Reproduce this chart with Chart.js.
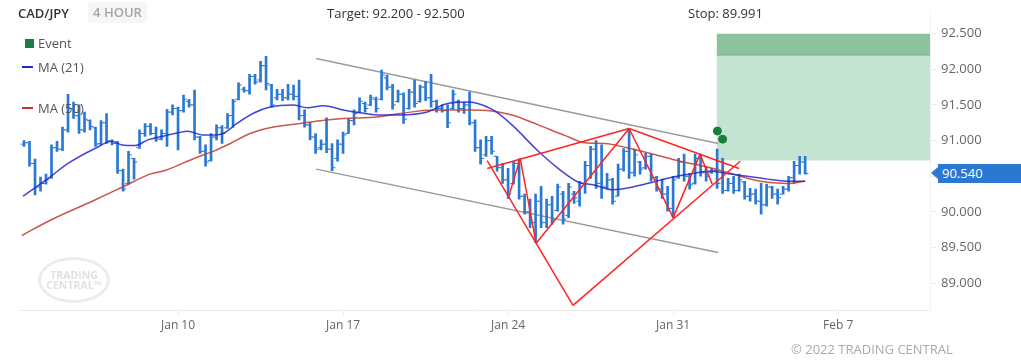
<!DOCTYPE html>
<html>
<head>
<meta charset="UTF-8"/>
<title>CAD/JPY - 4 HOUR</title>
<script src="https://cdn.jsdelivr.net/npm/chart.js@4.4.1/dist/chart.umd.min.js"></script>
<style>
 body { margin: 0; background: #fff; font-family: "Open Sans", sans-serif; }
 #wrap { position: relative; width: 1021px; height: 364px; overflow: hidden; }
 #wrap canvas { position: absolute; left: 0; top: 0; }
 .txt { position: absolute; font-size: 13px; line-height: 16px; color: #333; white-space: nowrap; }
 .leg { color: #555; }
 #pair { left: 18px; top: 5px; font-weight: 600; }
 #period { left: 88px; top: 2px; width: 59px; height: 21px; line-height: 21px; background: #f6f6f6;
           border-radius: 3px; color: #a5a5a5; font-weight: 600; text-align: center; }
 #target { left: 327px; top: 5px; }
 #stop { left: 688px; top: 5px; }
 .sw { position: absolute; }
 #mark { position: absolute; left: 38px; top: 257px; width: 66px; height: 40px; border: 3px solid #ececec;
         border-radius: 50%; color: #e1e1e1; font-size: 10.5px; font-weight: 700; line-height: 10px;
         text-align: center; box-sizing: content-box; }
 #mark span { display: block; margin-top: 10px; }
 #copy { left: 791px; top: 341px; font-size: 13px; color: #aaa; }
 #price { position: absolute; left: 938px; width: 83px; height: 19px; line-height: 19px; background: #2a78d2;
          color: #fff; font-size: 13px; padding-left: 4px; box-sizing: border-box; }
 #price:before { content: ""; position: absolute; left: -7px; top: 3px; border-right: 7px solid #2a78d2;
                 border-top: 6px solid transparent; border-bottom: 6px solid transparent; }
</style>
</head>
<body>
<div id="wrap">
  <canvas id="chart" width="1021" height="364"></canvas>
  <div id="mark"><span>TRADING<br/>CENTRAL&#8482;</span></div>
  <div class="txt" id="pair">CAD/JPY</div>
  <div class="txt" id="period">4 HOUR</div>
  <div class="txt" id="target">Target: 92.200 - 92.500</div>
  <div class="txt" id="stop">Stop: 89.991</div>
  <div class="sw" style="left:25px;top:39px;width:9px;height:9px;background:#16803c"></div>
  <div class="txt leg" style="left:38px;top:35px">Event</div>
  <div class="sw" style="left:22px;top:66px;width:11px;height:2px;background:#2424cc"></div>
  <div class="txt leg" style="left:38px;top:59px">MA (21)</div>
  <div class="sw" style="left:22px;top:107px;width:11px;height:2px;background:#c0392b"></div>
  <div class="txt leg" style="left:38px;top:100px">MA (50)</div>
  <div class="txt" id="copy">&copy; 2022 TRADING CENTRAL</div>
  <div id="price">90.540</div>
</div>

<script>
 // x is a bar index (30 four-hour bars per week), Jan 10 = 30
 var firstBar = 2;
 var xTickPos = [30, 60, 90, 120, 150];
 var xTickLabels = ["Jan 10", "Jan 17", "Jan 24", "Jan 31", "Feb 7"];
 var yTicks = [89.0, 89.5, 90.0, 90.5, 91.0, 91.5, 92.0, 92.5];
 var lastPrice = 90.540;

 var highs = [
   91.00, 90.99, 90.74, 90.49, 90.53, 90.94, 90.99, 91.19, 91.65, 91.54,
   91.50, 91.40, 91.29, 91.19, 91.28, 91.38, 91.01, 90.99, 90.60, 90.85,
   90.75, 91.15, 91.24, 91.24, 91.19, 91.15, 91.44, 91.50, 91.47, 91.64,
   91.58, 91.71, 91.06, 90.94, 91.10, 91.22, 91.21, 91.38, 91.58, 91.81,
   91.75, 91.93, 91.93, 92.11, 92.18, 91.79, 91.72, 91.72, 91.79, 91.78,
   91.85, 91.43, 91.25, 91.10, 91.01, 91.32, 90.96, 91.01, 91.12, 91.31,
   91.43, 91.60, 91.54, 91.64, 91.61, 91.99, 91.92, 91.79, 91.71, 91.67,
   91.72, 91.85, 91.78, 91.83, 91.93, 91.57, 91.50, 91.50, 91.71, 91.57,
   91.54, 91.68, 91.29, 91.01, 91.06, 91.06, 90.78, 90.68, 90.61, 90.71,
   90.74, 90.25, 90.18, 90.25, 90.36, 90.18, 90.22, 90.39, 90.29, 90.40,
   90.29, 90.43, 90.71, 90.92, 91.00, 90.94, 90.54, 90.47, 90.67, 90.89,
   91.17, 90.88, 90.71, 90.82, 90.81, 90.50, 90.46, 90.36, 90.50, 90.75,
   90.81, 90.54, 90.81, 90.81, 90.64, 90.61, 90.88, 90.75, 90.47, 90.50,
   90.53, 90.43, 90.33, 90.32, 90.40, 90.39, 90.36, 90.32, 90.36, 90.50,
   90.71, 90.78, 90.78
 ];
 var lows = [
   90.92, 90.64, 90.24, 90.29, 90.39, 90.47, 90.85, 90.86, 91.12, 91.31,
   91.10, 91.12, 91.15, 90.92, 90.94, 90.96, 90.94, 90.54, 90.29, 90.39,
   90.46, 90.89, 91.06, 91.08, 90.99, 91.01, 90.92, 91.36, 90.87, 91.40,
   91.47, 91.01, 90.82, 90.64, 90.71, 91.01, 90.96, 91.17, 91.19, 91.57,
   91.68, 91.65, 91.79, 91.82, 91.71, 91.47, 91.57, 91.56, 91.57, 91.57,
   91.29, 91.19, 91.01, 90.82, 90.87, 90.83, 90.58, 90.71, 90.82, 91.10,
   91.22, 91.39, 91.40, 91.49, 91.40, 91.57, 91.71, 91.44, 91.54, 91.24,
   91.44, 91.47, 91.54, 91.56, 91.47, 91.40, 91.40, 91.18, 91.44, 91.40,
   91.38, 91.22, 90.85, 90.67, 90.78, 90.81, 90.57, 90.40, 90.19, 90.39,
   90.18, 89.97, 89.78, 89.57, 89.78, 89.78, 89.83, 90.01, 89.83, 89.92,
   90.12, 90.08, 90.26, 90.47, 90.33, 90.19, 90.33, 90.11, 90.22, 90.57,
   90.47, 90.50, 90.53, 90.60, 90.43, 90.29, 90.19, 90.01, 89.92, 90.47,
   90.43, 90.32, 90.39, 90.50, 90.43, 90.54, 90.33, 90.26, 90.29, 90.26,
   90.29, 90.18, 90.15, 90.11, 89.97, 90.08, 90.19, 90.11, 90.25, 90.29,
   90.40, 90.53, 90.53
 ];
 var opens = [
   90.95, 90.97, 90.68, 90.35, 90.40, 90.48, 90.90, 90.88, 91.15, 91.45,
   91.35, 91.15, 91.28, 91.18, 90.96, 91.25, 90.99, 90.96, 90.58, 90.40,
   90.75, 90.90, 91.10, 91.20, 91.10, 91.02, 91.10, 91.40, 91.45, 91.42,
   91.55, 91.50, 91.05, 90.85, 90.72, 91.05, 91.18, 91.18, 91.35, 91.58,
   91.72, 91.70, 91.90, 91.85, 92.05, 91.78, 91.60, 91.65, 91.60, 91.65,
   91.62, 91.35, 91.22, 91.05, 90.90, 90.95, 90.88, 90.75, 90.95, 91.10,
   91.28, 91.40, 91.52, 91.50, 91.58, 91.58, 91.88, 91.75, 91.55, 91.65,
   91.45, 91.68, 91.55, 91.75, 91.60, 91.55, 91.45, 91.42, 91.45, 91.55,
   91.45, 91.50, 91.25, 90.90, 90.80, 91.00, 90.78, 90.62, 90.45, 90.40,
   90.68, 90.22, 90.00, 89.85, 90.15, 89.85, 90.10, 90.02, 90.25, 89.95,
   90.25, 90.15, 90.40, 90.65, 90.88, 90.40, 90.35, 90.45, 90.22, 90.60,
   90.85, 90.55, 90.70, 90.62, 90.78, 90.48, 90.32, 90.25, 90.05, 90.48,
   90.70, 90.50, 90.40, 90.75, 90.55, 90.55, 90.58, 90.70, 90.30, 90.40,
   90.30, 90.42, 90.22, 90.25, 90.15, 90.10, 90.35, 90.25, 90.25, 90.32,
   90.48, 90.65, 90.70
 ];
 var closes = [
   90.97, 90.68, 90.35, 90.40, 90.45, 90.90, 90.88, 91.15, 91.45, 91.35,
   91.15, 91.30, 91.20, 90.95, 91.25, 91.00, 90.96, 90.58, 90.32, 90.80,
   90.70, 91.10, 91.20, 91.10, 91.02, 91.10, 91.40, 91.45, 91.42, 91.58,
   91.50, 91.05, 90.85, 90.70, 91.05, 91.18, 91.10, 91.35, 91.55, 91.78,
   91.70, 91.90, 91.82, 92.05, 91.80, 91.50, 91.65, 91.60, 91.65, 91.62,
   91.35, 91.22, 91.05, 90.88, 90.95, 90.88, 90.62, 90.95, 91.08, 91.28,
   91.38, 91.55, 91.45, 91.60, 91.45, 91.92, 91.75, 91.50, 91.65, 91.30,
   91.68, 91.52, 91.75, 91.60, 91.55, 91.45, 91.42, 91.25, 91.65, 91.45,
   91.50, 91.25, 90.90, 90.75, 91.00, 90.85, 90.62, 90.45, 90.25, 90.68,
   90.22, 90.00, 89.85, 90.15, 89.85, 90.10, 89.90, 90.35, 89.90, 90.35,
   90.20, 90.40, 90.65, 90.88, 90.40, 90.35, 90.45, 90.15, 90.60, 90.85,
   90.55, 90.80, 90.60, 90.78, 90.48, 90.32, 90.25, 90.05, 90.45, 90.70,
   90.50, 90.38, 90.75, 90.55, 90.50, 90.58, 90.40, 90.30, 90.40, 90.30,
   90.45, 90.22, 90.25, 90.15, 90.10, 90.35, 90.25, 90.20, 90.32, 90.48,
   90.65, 90.70, 90.54
 ];

 // moving averages: [bar, price]
 var ma21 = [
   [1.8, 90.22], [6.4, 90.47], [10, 90.68], [14.9, 90.89], [18, 90.99], [19.8, 90.94],
   [22.2, 90.93], [24.5, 91.01], [27.1, 91.06], [30, 91.11], [31.8, 91.13], [34.4, 91.08],
   [36.7, 91.08], [38.2, 91.10], [40.7, 91.24], [43.6, 91.38], [46.7, 91.47], [50.9, 91.50],
   [53.5, 91.46], [56.4, 91.49], [60, 91.43], [63.1, 91.39], [66.2, 91.36], [70.4, 91.36],
   [75.3, 91.40], [78.5, 91.51], [82.5, 91.54], [84, 91.53], [87.3, 91.43], [90.7, 91.22],
   [95.5, 90.85], [99.1, 90.61], [102.7, 90.42], [105.5, 90.38], [109.1, 90.31], [112.7, 90.35],
   [116.4, 90.42], [120, 90.49], [123.6, 90.54], [126.7, 90.57], [129.8, 90.54], [133.5, 90.50],
   [137.1, 90.46], [140.7, 90.43], [144, 90.43]
 ];
 var ma50 = [
   [1.6, 89.67], [6.7, 89.88], [14.4, 90.15], [20.2, 90.36], [24.9, 90.53], [27.6, 90.58],
   [32.9, 90.75], [36.7, 90.86], [39.5, 90.96], [43.1, 91.10], [46.7, 91.18], [52.2, 91.24],
   [55.8, 91.28], [60, 91.31], [66.2, 91.33], [70.4, 91.38], [76.4, 91.43], [83.1, 91.43],
   [86.7, 91.42], [90.7, 91.36], [95.5, 91.22], [100.4, 91.07], [104, 90.97], [107.6, 90.96],
   [111.6, 90.90], [116.4, 90.81], [121.3, 90.71], [126.2, 90.63], [130.9, 90.53], [135.8, 90.43],
   [140.7, 90.40], [144, 90.43]
 ];

 var channel = [
   [[55.1, 92.15], [128.2, 90.96]],
   [[55.1, 90.60], [128.2, 89.43]]
 ];
 var pattern = [
   [[86.2, 90.72], [101.8, 88.69]],
   [[101.8, 88.69], [132.2, 90.71]],
   [[95.1, 89.56], [112.0, 91.17]],
   [[112.0, 91.17], [120.0, 89.92]],
   [[120.0, 89.92], [124.9, 90.81]],
   [[124.9, 90.81], [127.1, 90.39]],
   [[86.2, 90.61], [112.0, 91.17]],
   [[112.0, 91.17], [132.0, 90.61]],
   [[90.0, 90.19], [92.2, 90.75]],
   [[92.2, 90.75], [95.1, 89.56]]
 ];
 var events = [[128.05, 91.135], [129.0, 91.02]];

 var xMin = 1.27, xMax = 166.7;
 var boxStart = 127.9;
 var targetLow = 92.2, targetHigh = 92.5, boxLow = 90.72;

 var barColor = "#2a78d2";

 function pts(list) { return list.map(p => ({x: p[0], y: p[1]})); }

 var datasets = [];

 // target zone
 datasets.push({
     data: [{x: boxStart, y: targetHigh}, {x: xMax, y: targetHigh}],
     borderWidth: 0, pointRadius: 0, fill: {value: targetLow},
     backgroundColor: "rgba(125,188,148,0.9)", order: 20
 });
 datasets.push({
     data: [{x: boxStart, y: targetLow}, {x: xMax, y: targetLow}],
     borderWidth: 1, borderColor: "#6fb487", pointRadius: 0, fill: {value: boxLow},
     backgroundColor: "#c5e3d1", order: 19
 });

 channel.forEach(seg => datasets.push({
     data: pts(seg), borderColor: "#9a9a9a", borderWidth: 1.5, pointRadius: 0, order: 15
 }));

 datasets.push({
     type: "bar",
     data: highs.map((h, k) => ({x: firstBar + k, y: [lows[k], h]})),
     backgroundColor: barColor, barThickness: 2, grouped: false, order: 12
 });
 datasets.push({
     data: opens.map((v, k) => ({x: firstBar + k - 0.36, y: v})),
     showLine: false, pointStyle: "line", pointRadius: 1.3, pointBorderWidth: 1,
     pointBorderColor: barColor, order: 11
 });
 datasets.push({
     data: closes.map((v, k) => ({x: firstBar + k + 0.36, y: v})),
     showLine: false, pointStyle: "line", pointRadius: 1.3, pointBorderWidth: 1,
     pointBorderColor: barColor, order: 11
 });

 datasets.push({
     data: pts(ma50), borderColor: "rgba(192,57,43,0.85)", borderWidth: 1.5,
     pointRadius: 0, cubicInterpolationMode: "monotone", order: 9
 });
 datasets.push({
     data: pts(ma21), borderColor: "rgba(36,36,204,0.85)", borderWidth: 1.5,
     pointRadius: 0, cubicInterpolationMode: "monotone", order: 8
 });

 pattern.forEach(seg => datasets.push({
     data: pts(seg), borderColor: "#ff2424", borderWidth: 1.5, pointRadius: 0, order: 5
 }));

 datasets.push({
     data: pts(events), showLine: false, pointRadius: 4, pointBorderWidth: 1,
     pointBackgroundColor: "#16803c", pointBorderColor: "#16803c", order: 1
 });

 var chart = new Chart("chart", {
     type: "line",
     data: {datasets: datasets},
     options: {
         responsive: false,
         animation: false,
         layout: {autoPadding: false, padding: {left: 20, top: 10, right: 0, bottom: 0}},
         plugins: {legend: {display: false}, tooltip: {enabled: false}},
         scales: {
             x: {
                 type: "linear", min: xMin, max: xMax, offset: false,
                 afterFit: s => { s.height = 54; },
                 afterBuildTicks: s => { s.ticks = xTickPos.map(v => ({value: v})); },
                 ticks: {
                     callback: (v, i) => xTickLabels[i], color: "#666",
                     font: {family: "Open Sans", size: 12}, padding: 3, maxRotation: 0, autoSkip: false
                 },
                 grid: {offset: false, drawOnChartArea: false, tickLength: 5, color: "#ececec"},
                 border: {color: "#ececec"}
             },
             y: {
                 type: "linear", position: "right", min: 88.625, max: 92.792,
                 afterFit: s => { s.width = 91; },
                 afterBuildTicks: s => { s.ticks = yTicks.map(v => ({value: v})); },
                 ticks: {
                     callback: v => v.toFixed(3), color: "#666",
                     font: {family: "Open Sans", size: 13}, padding: 5
                 },
                 grid: {offset: false, drawOnChartArea: false, tickLength: 6, color: "#ececec"},
                 border: {color: "#f2f2f2"}
             }
         }
     }
 });

 var py = chart.scales.y.getPixelForValue(lastPrice);
 var tag = document.getElementById("price");
 tag.textContent = lastPrice.toFixed(3);
 tag.style.top = (py - 9.5) + "px";
</script>
</body>
</html>
